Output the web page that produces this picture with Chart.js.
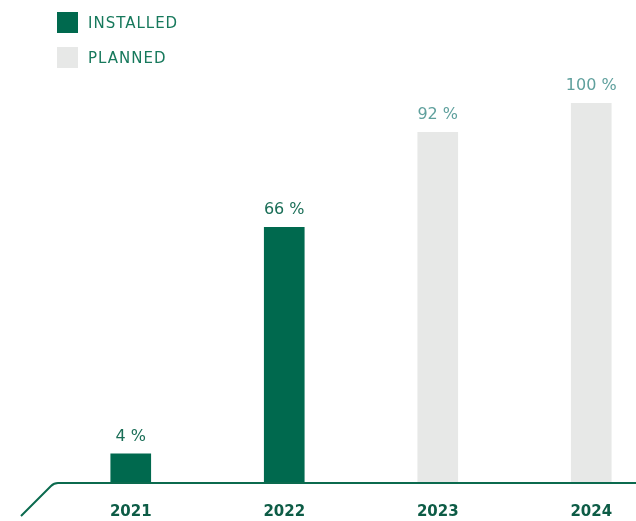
<!DOCTYPE html>
<html>
<head>
<meta charset="utf-8">
<script src="https://cdn.jsdelivr.net/npm/chart.js@4"></script>
<style>
  html, body { margin: 0; padding: 0; background: #fff; overflow: hidden; }
  #wrap { position: relative; width: 668px; height: 541px; }
  #legend { position: absolute; left: 57px; top: 12px; font-family: "DejaVu Sans", sans-serif; font-size: 15px; color: #17795c; letter-spacing: 1px; }
  .item { display: flex; align-items: center; height: 21px; margin-bottom: 14px; }
  .box { width: 21px; height: 21px; margin-right: 10px; }
</style>
</head>
<body>
<div id="wrap">
  <canvas id="chart"></canvas>
  <div id="legend"></div>
</div>
<script>
// Данные графика
const years = ['2021', '2022', '2023', '2024'];
const installed = [4, 66, null, null];
const planned = [null, null, 92, 100];
const seriesNames = ['INSTALLED', 'PLANNED'];

const barColors = ['#00694e', '#e7e8e7'];
const labelColors = ['#1a6e57', '#5fa09d'];
const axisColor = '#0b6a4e';

// Подписи над столбцами
const valueLabelsPlugin = {
  id: 'valueLabels',
  afterDatasetsDraw(chart) {
    const ctx = chart.ctx;
    ctx.save();
    ctx.font = '16px "DejaVu Sans", sans-serif';
    ctx.textAlign = 'center';
    ctx.textBaseline = 'alphabetic';
    chart.data.datasets.forEach((ds, di) => {
      const meta = chart.getDatasetMeta(di);
      meta.data.forEach((bar, i) => {
        const v = ds.data[i];
        if (v === null) return;
        ctx.fillStyle = labelColors[di];
        ctx.fillText(v + ' %', bar.x, bar.y - 13);
      });
    });
    ctx.restore();
  },
};

// Линия оси с загибом влево вниз
const axisLinePlugin = {
  id: 'axisLine',
  afterDatasetsDraw(chart) {
    const { ctx, chartArea } = chart;
    const b = chartArea.bottom;
    const l = chartArea.left;
    ctx.save();
    ctx.strokeStyle = axisColor;
    ctx.lineWidth = 2;
    ctx.beginPath();
    ctx.moveTo(chartArea.right, b);
    ctx.lineTo(l + 4, b);
    ctx.quadraticCurveTo(l, b, l - 3, b + 3);
    ctx.lineTo(l - 33, b + 33);
    ctx.stroke();
    ctx.restore();
  },
};

const ctx = document.getElementById('chart').getContext('2d');
const chart = new Chart(ctx, {
  type: 'bar',
  data: {
    labels: years,
    datasets: [installed, planned].map((data, index) => ({
      label: seriesNames[index],
      data: data,
      backgroundColor: barColors[index],
      barThickness: 40,
      base: -4,
    })),
  },
  options: {
    animation: false,
    responsive: true,
    maintainAspectRatio: false,
    layout: {
      padding: { top: 103, left: 54, right: 0, bottom: 0 },
    },
    plugins: {
      legend: { display: false },
      tooltip: { enabled: false },
    },
    scales: {
      x: {
        stacked: true,
        grid: { display: false, drawTicks: false },
        border: { display: false },
        ticks: {
          padding: 20,
          color: '#0d5c46',
          font: { family: '"DejaVu Sans", sans-serif', size: 15, weight: 'bold' },
        },
      },
      y: {
        stacked: true,
        display: false,
        min: -4,
        max: 100,
      },
    },
  },
  plugins: [valueLabelsPlugin, axisLinePlugin],
});

// Легенда
const legend = document.getElementById('legend');
seriesNames.forEach((name, index) => {
  const item = document.createElement('div');
  item.className = 'item';
  item.innerHTML = '<span class="box" style="background:' + barColors[index] + '"></span>' + name;
  legend.appendChild(item);
});
</script>
</body>
</html>
